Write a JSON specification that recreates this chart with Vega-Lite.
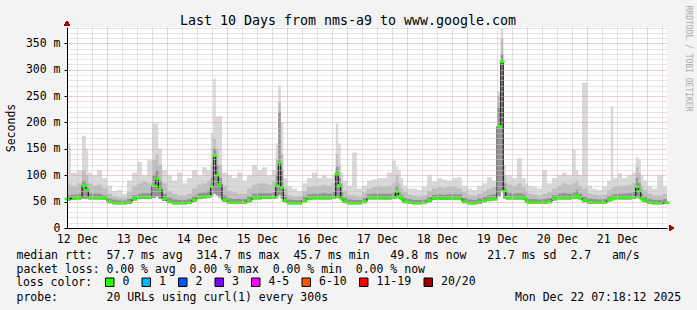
{
  "$schema": "https://vega.github.io/schema/vega-lite/v6.json",
  "width": 600,
  "height": 201,
  "autosize": "none",
  "padding": {"left": 67, "top": 27, "right": 30, "bottom": 82},
  "background": "#f3f3f3",
  "config": {
    "view": {"fill": "#ffffff", "stroke": null},
    "font": "DejaVu Sans Mono",
    "axis": {
      "labelFont": "DejaVu Sans Mono", "titleFont": "DejaVu Sans Mono",
      "labelFontSize": 11.5, "titleFontSize": 11.5, "titleFontWeight": "normal",
      "labelColor": "#000000", "titleColor": "#000000",
      "gridDash": [1, 1], "gridOpacity": 1, "gridWidth": 1,
      "domain": false, "ticks": false, "labels": false, "grid": false
    }
  },
  "data": {"values": [
    {"t":8,"m":55,"lo":52,"q":62,"p":85,"hi":160},
    {"t":11,"m":56,"lo":53,"q":63,"p":80,"hi":105},
    {"t":13,"m":57,"lo":54,"q":64,"p":85,"hi":110},
    {"t":15,"m":81,"lo":56,"q":90,"p":110,"hi":175},
    {"t":16,"m":72,"lo":55,"q":80,"p":100,"hi":150},
    {"t":17,"m":57,"lo":54,"q":66,"p":85,"hi":105},
    {"t":19,"m":57,"lo":54,"q":65,"p":80,"hi":100},
    {"t":21,"m":57,"lo":54,"q":65,"p":82,"hi":110},
    {"t":23,"m":56,"lo":53,"q":62,"p":75,"hi":95},
    {"t":25,"m":50,"lo":47,"q":56,"p":65,"hi":80},
    {"t":27,"m":48,"lo":45,"q":54,"p":60,"hi":70},
    {"t":29,"m":47,"lo":45,"q":52,"p":58,"hi":72},
    {"t":31,"m":47,"lo":45,"q":52,"p":58,"hi":65},
    {"t":33,"m":49,"lo":46,"q":55,"p":68,"hi":90},
    {"t":35,"m":55,"lo":52,"q":62,"p":80,"hi":105},
    {"t":37,"m":58,"lo":55,"q":65,"p":85,"hi":125},
    {"t":39,"m":58,"lo":55,"q":66,"p":88,"hi":100},
    {"t":41,"m":58,"lo":55,"q":66,"p":85,"hi":130},
    {"t":43,"m":80,"lo":57,"q":100,"p":130,"hi":198},
    {"t":44,"m":93,"lo":60,"q":110,"p":140,"hi":198},
    {"t":45,"m":74,"lo":56,"q":90,"p":120,"hi":150},
    {"t":47,"m":55,"lo":51,"q":65,"p":85,"hi":110},
    {"t":49,"m":50,"lo":47,"q":58,"p":70,"hi":100},
    {"t":51,"m":47,"lo":45,"q":54,"p":65,"hi":90},
    {"t":53,"m":47,"lo":45,"q":53,"p":62,"hi":105},
    {"t":55,"m":47,"lo":45,"q":53,"p":62,"hi":85},
    {"t":57,"m":48,"lo":46,"q":55,"p":65,"hi":95},
    {"t":59,"m":53,"lo":50,"q":61,"p":75,"hi":110},
    {"t":61,"m":58,"lo":55,"q":66,"p":82,"hi":100},
    {"t":63,"m":59,"lo":56,"q":67,"p":85,"hi":115},
    {"t":65,"m":60,"lo":57,"q":70,"p":90,"hi":110},
    {"t":66,"m":78,"lo":60,"q":95,"p":120,"hi":180},
    {"t":67,"m":137,"lo":65,"q":150,"p":170,"hi":283},
    {"t":68,"m":100,"lo":62,"q":120,"p":150,"hi":212},
    {"t":69,"m":83,"lo":58,"q":95,"p":120,"hi":212},
    {"t":71,"m":53,"lo":50,"q":62,"p":80,"hi":105},
    {"t":73,"m":48,"lo":46,"q":56,"p":70,"hi":100},
    {"t":75,"m":48,"lo":46,"q":55,"p":68,"hi":95},
    {"t":77,"m":48,"lo":46,"q":55,"p":65,"hi":105},
    {"t":79,"m":48,"lo":46,"q":55,"p":65,"hi":90},
    {"t":81,"m":52,"lo":49,"q":60,"p":75,"hi":100},
    {"t":83,"m":57,"lo":54,"q":65,"p":82,"hi":120},
    {"t":85,"m":57,"lo":54,"q":66,"p":85,"hi":110},
    {"t":87,"m":58,"lo":55,"q":66,"p":85,"hi":115},
    {"t":89,"m":58,"lo":55,"q":66,"p":82,"hi":100},
    {"t":91,"m":58,"lo":55,"q":68,"p":88,"hi":110},
    {"t":92,"m":80,"lo":58,"q":100,"p":130,"hi":160},
    {"t":93,"m":123,"lo":62,"q":220,"p":240,"hi":270},
    {"t":94,"m":76,"lo":56,"q":110,"p":140,"hi":200},
    {"t":95,"m":52,"lo":49,"q":62,"p":75,"hi":95},
    {"t":97,"m":47,"lo":45,"q":54,"p":62,"hi":80},
    {"t":99,"m":47,"lo":45,"q":53,"p":60,"hi":75},
    {"t":101,"m":47,"lo":45,"q":53,"p":60,"hi":70},
    {"t":103,"m":52,"lo":49,"q":59,"p":70,"hi":85},
    {"t":105,"m":56,"lo":53,"q":64,"p":78,"hi":95},
    {"t":107,"m":57,"lo":54,"q":65,"p":80,"hi":105},
    {"t":109,"m":57,"lo":54,"q":65,"p":80,"hi":95},
    {"t":111,"m":57,"lo":54,"q":66,"p":82,"hi":100},
    {"t":113,"m":57,"lo":54,"q":65,"p":80,"hi":95},
    {"t":115,"m":58,"lo":55,"q":68,"p":85,"hi":100},
    {"t":116,"m":103,"lo":58,"q":115,"p":140,"hi":198},
    {"t":117,"m":81,"lo":56,"q":95,"p":120,"hi":160},
    {"t":118,"m":56,"lo":52,"q":68,"p":85,"hi":105},
    {"t":119,"m":50,"lo":47,"q":58,"p":70,"hi":90},
    {"t":121,"m":47,"lo":45,"q":54,"p":62,"hi":80},
    {"t":123,"m":47,"lo":45,"q":53,"p":62,"hi":143},
    {"t":125,"m":47,"lo":45,"q":53,"p":60,"hi":75},
    {"t":127,"m":50,"lo":47,"q":57,"p":68,"hi":80},
    {"t":129,"m":57,"lo":54,"q":64,"p":75,"hi":90},
    {"t":131,"m":57,"lo":54,"q":65,"p":78,"hi":92},
    {"t":133,"m":57,"lo":54,"q":65,"p":80,"hi":95},
    {"t":135,"m":57,"lo":54,"q":65,"p":78,"hi":95},
    {"t":137,"m":57,"lo":54,"q":65,"p":80,"hi":105},
    {"t":139,"m":58,"lo":55,"q":67,"p":85,"hi":128},
    {"t":140,"m":69,"lo":57,"q":80,"p":100,"hi":116},
    {"t":141,"m":60,"lo":55,"q":68,"p":85,"hi":110},
    {"t":142,"m":56,"lo":52,"q":63,"p":75,"hi":95},
    {"t":143,"m":50,"lo":47,"q":57,"p":68,"hi":80},
    {"t":145,"m":48,"lo":46,"q":55,"p":63,"hi":75},
    {"t":147,"m":47,"lo":45,"q":53,"p":62,"hi":75},
    {"t":149,"m":47,"lo":45,"q":53,"p":60,"hi":72},
    {"t":151,"m":48,"lo":46,"q":54,"p":62,"hi":78},
    {"t":153,"m":52,"lo":49,"q":59,"p":70,"hi":100},
    {"t":155,"m":56,"lo":53,"q":63,"p":75,"hi":88},
    {"t":157,"m":56,"lo":53,"q":64,"p":78,"hi":95},
    {"t":159,"m":56,"lo":53,"q":63,"p":76,"hi":92},
    {"t":161,"m":56,"lo":53,"q":64,"p":78,"hi":90},
    {"t":163,"m":56,"lo":53,"q":64,"p":78,"hi":95},
    {"t":165,"m":56,"lo":53,"q":64,"p":75,"hi":96},
    {"t":167,"m":50,"lo":47,"q":57,"p":68,"hi":80},
    {"t":169,"m":47,"lo":45,"q":54,"p":62,"hi":75},
    {"t":171,"m":47,"lo":45,"q":53,"p":62,"hi":72},
    {"t":173,"m":49,"lo":46,"q":56,"p":65,"hi":80},
    {"t":175,"m":52,"lo":49,"q":59,"p":70,"hi":85},
    {"t":177,"m":54,"lo":51,"q":62,"p":75,"hi":96},
    {"t":179,"m":55,"lo":52,"q":64,"p":78,"hi":90},
    {"t":181,"m":193,"lo":60,"q":230,"p":250,"hi":260},
    {"t":182,"m":315,"lo":70,"q":330,"p":360,"hi":378},
    {"t":183,"m":70,"lo":56,"q":85,"p":100,"hi":120},
    {"t":184,"m":58,"lo":54,"q":68,"p":85,"hi":100},
    {"t":185,"m":57,"lo":54,"q":66,"p":82,"hi":100},
    {"t":187,"m":57,"lo":54,"q":65,"p":80,"hi":95},
    {"t":189,"m":57,"lo":54,"q":66,"p":85,"hi":132},
    {"t":191,"m":56,"lo":53,"q":64,"p":78,"hi":95},
    {"t":192,"m":50,"lo":47,"q":58,"p":70,"hi":85},
    {"t":193,"m":48,"lo":46,"q":55,"p":65,"hi":80},
    {"t":195,"m":48,"lo":46,"q":55,"p":63,"hi":78},
    {"t":197,"m":48,"lo":46,"q":54,"p":62,"hi":75},
    {"t":199,"m":48,"lo":46,"q":55,"p":65,"hi":110},
    {"t":201,"m":50,"lo":47,"q":57,"p":68,"hi":85},
    {"t":203,"m":55,"lo":52,"q":62,"p":75,"hi":95},
    {"t":205,"m":57,"lo":54,"q":65,"p":80,"hi":100},
    {"t":207,"m":57,"lo":54,"q":66,"p":85,"hi":105},
    {"t":209,"m":57,"lo":54,"q":65,"p":82,"hi":100},
    {"t":211,"m":58,"lo":55,"q":67,"p":85,"hi":148},
    {"t":212,"m":62,"lo":56,"q":72,"p":90,"hi":110},
    {"t":213,"m":57,"lo":54,"q":65,"p":80,"hi":100},
    {"t":215,"m":52,"lo":49,"q":60,"p":75,"hi":276},
    {"t":217,"m":49,"lo":46,"q":56,"p":65,"hi":80},
    {"t":219,"m":48,"lo":46,"q":55,"p":63,"hi":75},
    {"t":221,"m":48,"lo":46,"q":54,"p":62,"hi":72},
    {"t":223,"m":48,"lo":46,"q":55,"p":63,"hi":78},
    {"t":225,"m":53,"lo":50,"q":60,"p":72,"hi":90},
    {"t":226,"m":55,"lo":52,"q":62,"p":75,"hi":231},
    {"t":227,"m":57,"lo":54,"q":64,"p":78,"hi":95},
    {"t":229,"m":57,"lo":54,"q":65,"p":80,"hi":104},
    {"t":231,"m":57,"lo":54,"q":65,"p":80,"hi":95},
    {"t":233,"m":57,"lo":54,"q":66,"p":82,"hi":100},
    {"t":235,"m":58,"lo":55,"q":68,"p":85,"hi":105},
    {"t":236,"m":78,"lo":58,"q":95,"p":115,"hi":134},
    {"t":237,"m":70,"lo":56,"q":85,"p":105,"hi":130},
    {"t":238,"m":56,"lo":52,"q":65,"p":80,"hi":100},
    {"t":239,"m":52,"lo":49,"q":60,"p":72,"hi":90},
    {"t":241,"m":48,"lo":46,"q":55,"p":65,"hi":80},
    {"t":243,"m":47,"lo":45,"q":53,"p":62,"hi":75},
    {"t":245,"m":47,"lo":45,"q":53,"p":62,"hi":100},
    {"t":248,"m":48,"lo":46,"q":55,"p":65,"hi":80}
  ]},
  "resolve": {"axis": {"x": "independent", "y": "independent"}},
  "layer": [
    {
      "mark": {"type": "area", "interpolate": "step", "color": "#d9d9d9"},
      "encoding": {
        "x": {"field": "t", "type": "quantitative", "scale": {"domain": [8, 248], "nice": false, "zero": false},
              "axis": {"orient": "bottom", "values": [12,18,30,36,42,54,60,66,78,84,90,102,108,114,126,132,138,150,156,162,174,180,186,198,204,210,222,228,234,246],
                       "grid": true, "gridColor": "#c8c8c8", "title": null, "zindex": 1}},
        "y": {"field": "lo", "type": "quantitative", "scale": {"domain": [0, 381], "nice": false, "zero": true},
              "axis": {"orient": "left", "values": [10,20,30,40,60,70,80,90,110,120,130,140,160,170,180,190,210,220,230,240,260,270,280,290,310,320,330,340,360,370,380],
                       "grid": true, "gridColor": "#c8c8c8", "title": null, "zindex": 1}},
        "y2": {"field": "hi"}
      }
    },
    {
      "mark": {"type": "area", "interpolate": "step", "color": "#bebebe"},
      "encoding": {
        "x": {"field": "t", "type": "quantitative", "scale": {"domain": [8, 248], "nice": false, "zero": false},
              "axis": {"orient": "bottom", "values": [24,48,72,96,120,144,168,192,216,240], "grid": true, "gridColor": "#e89a9a", "title": null, "zindex": 1}},
        "y": {"field": "lo", "type": "quantitative", "scale": {"domain": [0, 381], "nice": false},
              "axis": {"orient": "left", "values": [0,50,100,150,200,250,300,350], "grid": true, "gridColor": "#e89a9a", "zindex": 1,
                       "labels": true, "labelExpr": "datum.value == 0 ? '0' : datum.value + ' m'",
                       "ticks": true, "tickSize": 3, "tickColor": "#000000", "labelPadding": 4,
                       "domain": true, "domainColor": "#000000",
                       "title": "Seconds", "titleX": -53, "titleY": 100.5, "titleAngle": -90,
                       "titleAlign": "center", "titleBaseline": "alphabetic"}},
        "y2": {"field": "p"}
      }
    },
    {
      "mark": {"type": "area", "interpolate": "step", "color": "#939393"},
      "encoding": {
        "x": {"field": "t", "type": "quantitative", "scale": {"domain": [8, 248], "nice": false, "zero": false},
              "axis": {"orient": "bottom", "values": [12,36,60,84,108,132,156,180,204,228], "labels": true,
                       "labelExpr": "(12 + floor(datum.value / 24)) + ' Dec'",
                       "tickSize": 0, "labelPadding": 5, "domain": true, "domainColor": "#000000", "zindex": 1,
                       "title": [
                         "median\u00a0rtt:\u00a0\u00a057.7\u00a0ms\u00a0avg\u00a0\u00a0314.7\u00a0ms\u00a0max\u00a0\u00a045.7\u00a0ms\u00a0min\u00a0\u00a0\u00a049.8\u00a0ms\u00a0now\u00a0\u00a0\u00a021.7\u00a0ms\u00a0sd\u00a0\u00a02.7\u00a0\u00a0\u00a0am/s",
                         "packet\u00a0loss:\u00a00.00\u00a0%\u00a0avg\u00a0\u00a00.00\u00a0%\u00a0max\u00a0\u00a00.00\u00a0%\u00a0min\u00a0\u00a00.00\u00a0%\u00a0now"
                       ],
                       "titleX": -51, "titleY": 30.5, "titleAlign": "left", "titleAnchor": "start",
                       "titleBaseline": "alphabetic", "titleLineHeight": 14}},
        "y": {"field": "lo", "type": "quantitative", "scale": {"domain": [0, 381], "nice": false},
              "axis": {"orient": "right", "title": "RRDTOOL / TOBI OETIKER", "titleAngle": 90,
                       "titleX": 18, "titleY": -22, "titleAlign": "left", "titleBaseline": "alphabetic",
                       "titleFontSize": 8, "titleColor": "#a8a8a8"}},
        "y2": {"field": "q"}
      }
    },
    {
      "mark": {"type": "line", "interpolate": "step", "color": "#000000", "strokeWidth": 1},
      "encoding": {
        "x": {"field": "t", "type": "quantitative", "scale": {"domain": [8, 248], "nice": false, "zero": false},
              "axis": {"orient": "top", "title": "Last 10 Days from nms-a9 to www.google.com",
                       "titleFontSize": 13.3, "titleX": 280.5, "titleY": -3, "titleAlign": "center",
                       "titleBaseline": "alphabetic"}},
        "y": {"field": "m", "type": "quantitative", "scale": {"domain": [0, 381], "nice": false}, "axis": null}
      }
    },
    {
      "mark": {"type": "tick", "orient": "horizontal", "size": 5, "thickness": 2.5, "opacity": 1},
      "encoding": {
        "x": {"field": "t", "type": "quantitative", "scale": {"domain": [8, 248], "nice": false, "zero": false}, "axis": null},
        "y": {"field": "m", "type": "quantitative", "scale": {"domain": [0, 381], "nice": false}, "axis": null},
        "color": {
          "datum": "0", "type": "nominal",
          "scale": {"domain": ["0","1","2","3","4-5","6-10","11-19","20/20"],
                    "range": ["#26ff00","#00b8ff","#0059ff","#7e00ff","#ff00ff","#ff5500","#ff0000","#a10000"]},
          "legend": {
            "orient": "none", "legendX": -51, "legendY": 249.5, "direction": "horizontal",
            "title": "loss color:", "titleOrient": "left", "titleFont": "DejaVu Sans Mono", "titleFontSize": 11.5,
            "titleFontWeight": "normal", "titleColor": "#000000", "titlePadding": 11,
            "labelFont": "DejaVu Sans Mono", "labelFontSize": 11.5, "labelColor": "#000000",
            "labelOffset": 7, "columnPadding": 9.5, "padding": 0,
            "symbolType": "square", "symbolSize": 72, "symbolStrokeWidth": 1, "symbolStrokeColor": "#000000",
            "symbolOpacity": 1,
            "encode": {"symbols": {"update": {"stroke": {"value": "#000000"}, "strokeWidth": {"value": 1}, "opacity": {"value": 1}}}}
          }
        }
      }
    },
    {
      "mark": {"type": "point", "shape": "triangle-up", "filled": true, "size": 30, "color": "#a00000", "opacity": 1},
      "encoding": {
        "x": {"datum": 8, "scale": {"domain": [8, 248], "nice": false, "zero": false},
              "axis": {"orient": "bottom",
                       "title": "probe:\u00a0\u00a0\u00a0\u00a0\u00a0\u00a0\u00a020\u00a0URLs\u00a0using\u00a0curl(1)\u00a0every\u00a0300s\u00a0\u00a0\u00a0\u00a0\u00a0\u00a0\u00a0\u00a0\u00a0\u00a0\u00a0\u00a0\u00a0\u00a0\u00a0\u00a0\u00a0\u00a0\u00a0\u00a0\u00a0\u00a0\u00a0\u00a0\u00a0\u00a0\u00a0Mon\u00a0Dec\u00a022\u00a007:18:12\u00a02025",
                       "titleX": -51, "titleY": 72.5, "titleAlign": "left", "titleAnchor": "start",
                       "titleBaseline": "alphabetic"}},
        "y": {"datum": 388, "scale": {"domain": [0, 381], "nice": false}, "axis": null}
      }
    },
    {
      "mark": {"type": "point", "shape": "triangle-right", "filled": true, "size": 30, "color": "#a00000", "opacity": 1},
      "encoding": {
        "x": {"datum": 249.8, "scale": {"domain": [8, 248], "nice": false, "zero": false}, "axis": null},
        "y": {"datum": 0, "scale": {"domain": [0, 381], "nice": false}, "axis": null}
      }
    }
  ]
}
